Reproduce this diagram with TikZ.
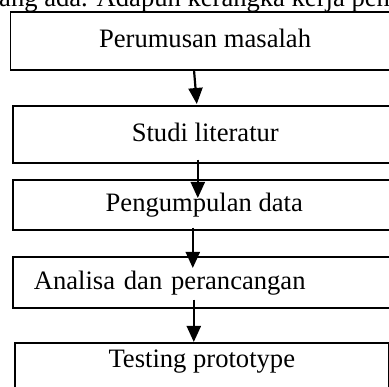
\documentclass[tikz,border=0pt]{standalone}
\usepackage{fontspec}
\setmainfont{Liberation Serif}
\usetikzlibrary{arrows.meta}

\tikzset{
  kotak/.style={draw, line width=1.6pt, anchor=north west, inner sep=0pt,
    text height=18pt, text depth=4pt, font=\fontsize{26.6}{30}\selectfont},
  alur/.style={-{Triangle[length=16pt,width=14pt]}, line width=2.2pt},
}

\begin{document}
\begin{tikzpicture}[x=1pt,y=-1pt]
\useasboundingbox (0,0) rectangle (389,387);
\clip (0,0) rectangle (389,387);

\node[anchor=base west, inner sep=0pt, font=\fontsize{26.6}{30}\selectfont] (teks) at (-1,7)
  {ang ada. Adapun kerangka kerja pen};

\node[kotak, minimum width=389.5pt, minimum height=58pt] (perumusan) at (9.5,11) {Perumusan masalah};
\node[kotak, minimum width=385pt, minimum height=57pt] (studi) at (12,105) {Studi literatur};
\node[kotak, minimum width=383pt, minimum height=50pt] (pengumpulan) at (12,179) {Pengumpulan data};
\node[kotak, minimum height=51pt, text width=360pt, inner xsep=21pt, align=left] (analisa) at (12,256) {Analisa dan perancangan};
\node[kotak, minimum width=374pt, inner ysep=7pt, text depth=40pt] (testing) at (14,342) {Testing prototype};

\draw[alur] ([xshift=-11pt]perumusan.south) -- ([xshift=-8.5pt,yshift=1pt]studi.north);
\draw[alur] ([xshift=-7.5pt,yshift=4pt]studi.south) -- ([xshift=-6.5pt,yshift=-19pt]pengumpulan.north);
\draw[alur] ([xshift=-11.5pt,yshift=3pt]pengumpulan.south) -- ([xshift=-21pt,yshift=-12pt]analisa.north);
\draw[alur] ([xshift=-20pt,yshift=9pt]analisa.south) -- ([xshift=-8pt]testing.north);

\end{tikzpicture}
\end{document}
